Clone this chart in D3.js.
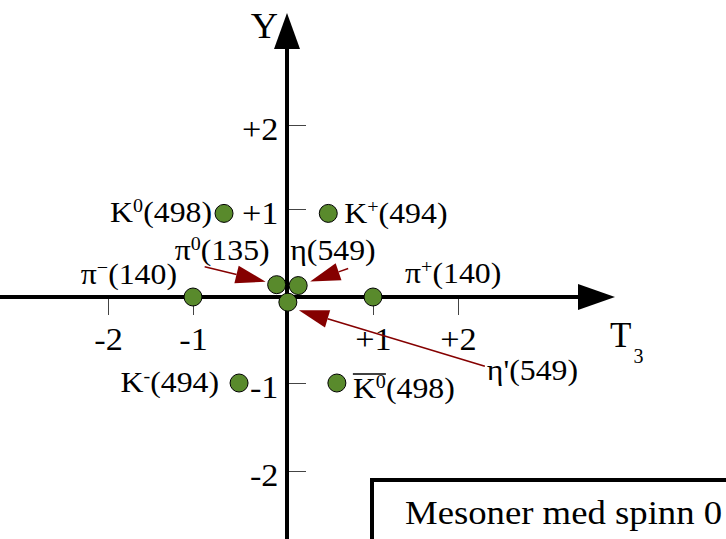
<!DOCTYPE html>
<html>
<head>
<meta charset="utf-8">
<script src="https://cdn.jsdelivr.net/npm/d3@7"></script>
<style>
  body { margin: 0; background: #fff; }
  svg { display: block; }
  text { font-family: "Liberation Serif", "Times New Roman", serif; fill: #000; }
</style>
</head>
<body>
<div id="chart"></div>
<script>
// spin-0 meson nonet: T3 (isospin) against Y (hypercharge)
var names   = ["K0", "K+", "pi-", "pi0", "eta", "eta'", "pi+", "K-", "K0bar"];
var symbols = ["K", "K", "π", "π", "η", "η'", "π", "K", "K"];
var charges = ["0", "+", "−", "0", "", "", "+", "-", "0"];
var masses  = [498, 494, 140, 135, 549, 549, 140, 494, 498];
var t3      = [-0.67, 0.48, -1, -0.11, 0.13, 0.01, 1, -0.51, 0.58];
var hyper   = [0.95, 0.95, 0, 0.14, 0.13, -0.06, 0, -1, -1];

var tickValues = [-2, -1, 1, 2];
var tickLabels = ["-2", "-1", "+1", "+2"];

var title = "Mesoner med spinn 0";

var width = 726,
    height = 539,
    green = "#598a2c",
    darkRed = "#850000";

// the lettering in the figure is a little wide
function wide(k) { return "scale(" + k + ",1)"; }

// hand drawn figure, so the unit steps are not all the same
var x = d3.scaleLinear().domain([-2, -1, 0, 1, 2]).range([108, 193, 287, 373, 458]);
var y = d3.scaleLinear().domain([-2, -1, 0, 1, 2]).range([471, 383, 297, 209, 125]);

var svg = d3.select("#chart").append("svg")
    .attr("width", width).attr("height", height);

var x0 = x(0), y0 = y(0);

// tick marks + numbers
var gx = svg.append("g")
    .attr("transform", "translate(0," + y0 + ")")
    .call(d3.axisBottom(x).tickValues(tickValues)
        .tickFormat(function(d, i) { return tickLabels[i]; })
        .tickSizeInner(18).tickSizeOuter(0).tickPadding(12));
gx.select(".domain").remove();
gx.attr("font-family", null).attr("font-size", 32);
gx.selectAll(".tick line").attr("stroke", "#444");
gx.selectAll(".tick text").attr("fill", "#000").attr("transform", wide(1.07));

var gy = svg.append("g")
    .attr("transform", "translate(" + x0 + ",0)")
    .call(d3.axisLeft(y).tickValues(tickValues)
        .tickFormat(function(d, i) { return tickLabels[i]; })
        .tickSizeInner(-19).tickSizeOuter(0).tickPadding(8));
gy.select(".domain").remove();
gy.attr("font-family", null).attr("font-size", 32);
gy.selectAll(".tick line").attr("stroke", "#444");
gy.selectAll(".tick text").attr("fill", "#000").attr("dy", "0.45em").attr("transform", wide(1.07));

// the two main axes with arrow heads
svg.append("line")
    .attr("x1", 0).attr("x2", 580).attr("y1", y0).attr("y2", y0)
    .attr("stroke", "#000").attr("stroke-width", 4);
svg.append("path")
    .attr("d", "M578," + (y0 - 13) + "L615," + y0 + "L578," + (y0 + 13) + "Z");

svg.append("line")
    .attr("x1", x0).attr("x2", x0).attr("y1", height).attr("y2", 47)
    .attr("stroke", "#000").attr("stroke-width", 4);
svg.append("path")
    .attr("d", "M" + (x0 - 13) + ",49L" + x0 + ",13L" + (x0 + 13) + ",49Z");

// axis names
svg.append("g").attr("transform", "translate(278,38) " + wide(1.05))
  .append("text").attr("text-anchor", "end").attr("font-size", 36).text("Y");

var t3Label = svg.append("g").attr("transform", "translate(610,347) " + wide(1.0))
  .append("text").attr("font-size", 35);
t3Label.append("tspan").text("T");
t3Label.append("tspan").attr("dx", 2).attr("dy", 16).attr("font-size", 20).text("3");

// pointers for the three particles crowded round the origin
// [name, start dx, start dy, tip dx, tip dy] relative to the dot
var pointers = [
    ["pi0", -72, -18, -11, -3],
    ["eta", 50, -17, 12, -4],
    ["eta'", 197, 64, 11, 8]
];

pointers.forEach(function(p) {
    var i = names.indexOf(p[0]),
        cx = x(t3[i]), cy = y(hyper[i]),
        sx = cx + p[1], sy = cy + p[2],
        tx = cx + p[3], ty = cy + p[4],
        a = Math.atan2(ty - sy, tx - sx),
        len = 30, half = 9,
        bx = tx - len * Math.cos(a), by = ty - len * Math.sin(a);

    svg.append("line")
        .attr("x1", sx).attr("y1", sy).attr("x2", bx).attr("y2", by)
        .attr("stroke", darkRed).attr("stroke-width", 1.5);
    svg.append("path")
        .attr("fill", darkRed)
        .attr("d", "M" + tx + "," + ty +
            "L" + (bx + half * Math.sin(a)) + "," + (by - half * Math.cos(a)) +
            "L" + (bx - half * Math.sin(a)) + "," + (by + half * Math.cos(a)) + "Z");
});

// particle dots
svg.selectAll("circle.meson")
    .data(names)
  .enter().append("circle")
    .attr("class", "meson")
    .attr("cx", function(d, i) { return x(t3[i]); })
    .attr("cy", function(d, i) { return y(hyper[i]); })
    .attr("r", 9)
    .attr("fill", green)
    .attr("stroke", "#000")
    .attr("stroke-width", 1);

// where each name sits, relative to its dot
var labelPlace = {
    "K0":    { anchor: "end",   dx: -12, dy: 9 },
    "K+":    { anchor: "start", dx: 16,  dy: 10 },
    "pi-":   { anchor: "end",   dx: -16, dy: -13 },
    "pi0":   { anchor: "end",   dx: -7,  dy: -25 },
    "eta":   { anchor: "start", dx: -8,  dy: -26 },
    "eta'":  { anchor: "start", dx: 199, dy: 78 },
    "pi+":   { anchor: "start", dx: 32,  dy: -14 },
    "K-":    { anchor: "end",   dx: -20, dy: 9 },
    "K0bar": { anchor: "start", dx: 16,  dy: 15 }
};

names.forEach(function(name, i) {
    var pl = labelPlace[name],
        g = svg.append("g")
            .attr("transform", "translate(" + (x(t3[i]) + pl.dx) + "," + (y(hyper[i]) + pl.dy) + ") " + wide(1.06)),
        t = g.append("text").attr("font-size", 30).attr("text-anchor", pl.anchor);

    t.append("tspan").text(symbols[i]);
    if (charges[i]) {
        t.append("tspan").attr("dy", -10).attr("font-size", 19).text(charges[i]);
        t.append("tspan").attr("dy", 10).text("(" + masses[i] + ")");
    } else {
        t.append("tspan").text("(" + masses[i] + ")");
    }

    if (name === "K0bar") {
        var k = t.node().getExtentOfChar(0),
            s = t.node().getExtentOfChar(1);
        g.append("line")
            .attr("x1", k.x).attr("x2", s.x + s.width)
            .attr("y1", -24).attr("y2", -24)
            .attr("stroke", "#000").attr("stroke-width", 1.3);
    }
});

// caption box running off the bottom right corner
svg.append("rect")
    .attr("x", 372).attr("y", 480).attr("width", 400).attr("height", 100)
    .attr("fill", "#fff").attr("stroke", "#000").attr("stroke-width", 4);
svg.append("g").attr("transform", "translate(405,524) " + wide(1.08))
  .append("text").attr("font-size", 34).text(title);
</script>
</body>
</html>
